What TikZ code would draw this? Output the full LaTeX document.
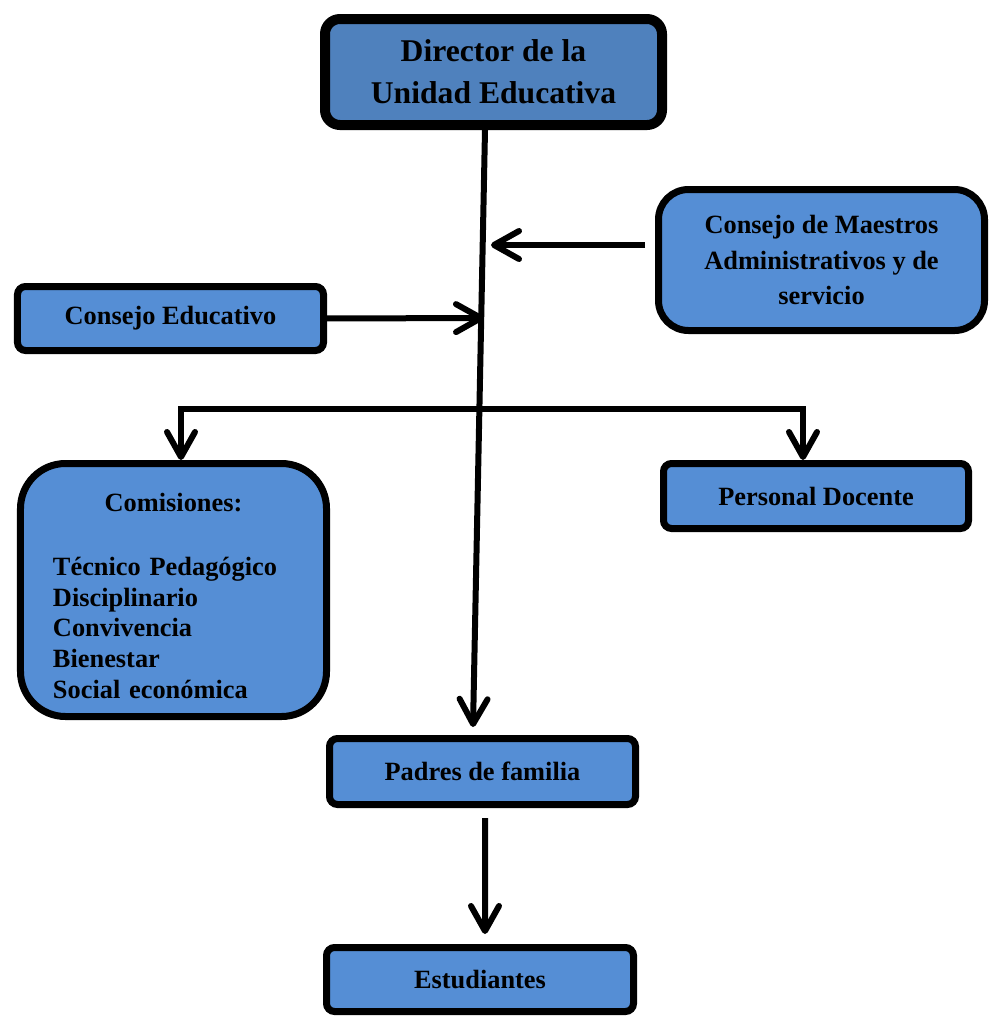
\documentclass[tikz,border=0pt]{standalone}
\usepackage{fontspec}
\setmainfont{Liberation Serif}
\usetikzlibrary{arrows.meta}
\definecolor{azulDir}{RGB}{79,129,189}
\definecolor{azulCaja}{RGB}{85,142,213}

\begin{document}
\begin{tikzpicture}[x=0.2mm, y=-0.2mm,
    punta/.tip={Straight Barb[length=5mm, width=5.6mm, line cap=round, line join=round]},
    caja/.style={draw=black, line width=1.4mm, fill=azulCaja, rounded corners=1.6mm,
      align=center, inner sep=0pt, font=\fontsize{15}{17.5}\selectfont\bfseries},
    linea/.style={line width=1.2mm},
    flecha/.style={linea, -punta}]
  \useasboundingbox (0,0) rectangle (989,1017);

  % cajas
  \node[caja, fill=azulDir, line width=2mm, rounded corners=3mm, minimum width=67.4mm, minimum height=21.2mm,
    font=\fontsize{18}{24}\selectfont\bfseries] (dir) at (493.5,72) {Director de la\\Unidad Educativa};
  \node[caja, rounded corners=6mm, minimum width=65.2mm, minimum height=28.2mm,
    font=\fontsize{15}{20}\selectfont\bfseries] (maes) at (821.5,260) {Consejo de Maestros\\Administrativos y de\\servicio};
  \node[caja, minimum width=61.2mm, minimum height=12.8mm] (ced) at (170.5,318.5) {Consejo Educativo};
  \node[caja, rounded corners=9mm, minimum width=61.2mm, minimum height=50.6mm,
    text width=48.2mm, align=left] (com) at (173.5,590)
    {\makebox[\linewidth]{\rule{0pt}{17pt}Comisiones:}\\[19pt]Técnico Pedagógico\\Disciplinario\\Convivencia\\Bienestar\\Social económica};
  \node[caja, minimum width=61mm, minimum height=13mm] (doc) at (816,496) {Personal Docente};
  \node[caja, minimum width=61.2mm, minimum height=13.2mm] (pad) at (482.5,771.5) {Padres de familia};
  \node[caja, minimum width=61.4mm, minimum height=12.8mm] (est) at (480,979.5) {Estudiantes};

  % conexiones
  \coordinate (finTronco) at (473,727);
  \coordinate (finMaes) at (491,245);
  \coordinate (finCed) at (484,318);
  \coordinate (ramaIzq) at (181,409);
  \coordinate (ramaDer) at (803,409);

  \draw[flecha] ([shift={(-8.5,0)}]dir.south) -- (finTronco);
  \draw[flecha] ([shift={(-10,-15)}]maes.west) -- (finMaes);
  \draw[flecha] ([shift={(-3.5,0)}]ced.east) -- (finCed);
  \draw[linea, punta-punta] (ramaIzq |- com.north) -- (ramaIzq) -- (ramaDer) -- (ramaDer |- doc.north);
  \draw[flecha] ([shift={(2.5,10)}]pad.south) -- ([shift={(5,-10)}]est.north);
\end{tikzpicture}
\end{document}
